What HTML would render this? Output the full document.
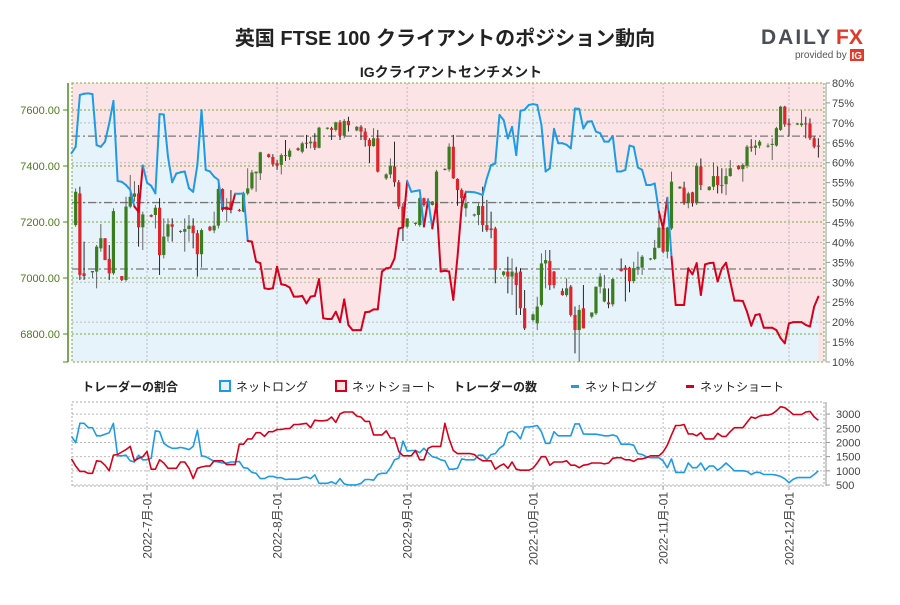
<!DOCTYPE html>
<html><head><meta charset="utf-8">
<style>
html,body{margin:0;padding:0;background:#fff;}
body{width:900px;height:600px;overflow:hidden;font-family:"Liberation Sans","Noto Sans CJK JP",sans-serif;}
svg text{font-family:"Liberation Sans","Noto Sans CJK JP",sans-serif;}
</style></head>
<body>
<svg id="chart" width="900" height="600" viewBox="0 0 900 600" xmlns="http://www.w3.org/2000/svg">
<text x="445" y="45" text-anchor="middle" font-size="20" font-weight="bold" fill="#222">英国 FTSE 100 クライアントのポジション動向</text>
<text x="451" y="77" text-anchor="middle" font-size="14" font-weight="bold" fill="#222">IGクライアントセンチメント</text>
<g>
<text x="761" y="44" font-size="21" font-weight="bold" fill="#4a4f57" letter-spacing="2">DAILY</text>
<text x="836" y="44" font-size="21" font-weight="bold" fill="#e03a2a">FX</text>
<text x="795" y="58" font-size="10" fill="#555">provided by</text>
<rect x="850" y="49" width="14" height="12" fill="#e03a2a"/>
<text x="851.5" y="59" font-size="10" font-weight="bold" fill="#fff">IG</text>
</g>
<g id="main"></g>
<g id="legend">
<text x="82" y="391" font-size="12" font-weight="bold" fill="#222">トレーダーの割合</text>
<rect x="220" y="381" width="10" height="10" fill="#e6f3fb" stroke="#1e9be6" stroke-width="2"/>
<text x="236" y="391" font-size="12" fill="#222">ネットロング</text>
<rect x="336" y="381" width="10" height="10" fill="#fce4e6" stroke="#d7001c" stroke-width="2"/>
<text x="352" y="391" font-size="12" fill="#222">ネットショート</text>
<text x="453" y="391" font-size="12" font-weight="bold" fill="#222">トレーダーの数</text>
<rect x="571" y="385" width="8" height="3" fill="#1e9be6"/>
<text x="585" y="391" font-size="12" fill="#222">ネットロング</text>
<rect x="686" y="385" width="8" height="3" fill="#d7001c"/>
<text x="700" y="391" font-size="12" fill="#222">ネットショート</text>
</g>
<g id="lower"></g>
</svg>
<script>
// ---- data ----
const candleDays=[-17,-16,-15,-13,-12,-11,-10,-9,-8,-6,-5,-4,-3,-2,-1,1,2,3,4,5,6,8,9,10,11,12,13,15,16,17,18,19,20,22,23,24,25,26,27,29,30,31,32,33,34,36,37,38,39,40,41,43,44,45,46,47,48,50,51,52,53,54,55,57,58,59,60,61,62,64,65,66,67,68,69,71,72,73,74,75,76,78,79,80,81,82,83,85,86,87,88,89,90,92,93,94,95,96,97,99,100,101,102,103,104,106,107,108,109,110,111,113,114,115,116,117,118,120,121,122,123,124,125,127,128,129,130,131,132,134,135,136,137,138,139,141,142,143,144,145,146,148,149,150,151,152,153,155,156,157,158,159,160];
const ohlc=[[7189,7320,7183,7308],[7302,7326,6993,7011],[7017,7130,6993,7007],[7020,7025,6999,7025],[7023,7118,6963,7112],[7106,7193,7094,7142],[7142,7142,7064,7064],[7068,7118,6993,7017],[7017,7249,7011,7239],[7007,7007,6989,6993],
[6993,7290,6987,7255],[7255,7368,7249,7290],[7290,7346,7273,7302],[7302,7332,7112,7181],[7181,7237,7100,7227],[7225,7227,7217,7219],[7225,7261,7177,7251],[7251,7285,7011,7082],[7082,7213,7070,7148],[7148,7213,7130,7192],
[7192,7213,7130,7183],[7165,7171,7160,7168],[7165,7213,7094,7175],[7175,7225,7130,7187],[7187,7213,7106,7160],[7160,7171,7005,7085],[7085,7177,7037,7171],[7183,7186,7167,7170],[7170,7237,7160,7187],[7187,7344,7177,7318],
[7318,7320,7237,7243],[7243,7285,7201,7255],[7273,7314,7231,7243],[7243,7247,7237,7242],[7237,7308,7235,7302],[7302,7392,7296,7320],[7320,7386,7314,7377],[7374,7380,7308,7380],[7374,7451,7350,7449],[7442,7444,7430,7432],
[7432,7442,7398,7406],[7410,7421,7386,7401],[7404,7445,7370,7439],[7439,7493,7418,7436],[7433,7463,7421,7455],[7463,7466,7454,7457],[7451,7487,7445,7481],[7483,7511,7463,7481],[7481,7505,7463,7487],[7487,7517,7457,7465],
[7465,7540,7463,7537],[7533,7538,7530,7537],[7535,7540,7493,7529],[7529,7558,7523,7556],[7556,7564,7493,7508],[7508,7568,7499,7561],[7561,7576,7523,7546],[7527,7543,7524,7540],[7540,7546,7493,7523],[7523,7535,7469,7493],
[7493,7499,7410,7471],[7471,7535,7469,7499],[7499,7529,7377,7380],[7356,7374,7350,7370],[7370,7427,7356,7401],[7398,7487,7326,7342],[7342,7350,7246,7255],[7255,7267,7132,7183],[7183,7213,7177,7213],[7193,7199,7187,7197],
[7189,7290,7183,7285],[7285,7287,7255,7261],[7275,7285,7255,7261],[7261,7275,7259,7273],[7251,7386,7249,7380],[7386,7392,7384,7390],[7388,7481,7380,7469],[7469,7511,7354,7356],[7354,7356,7258,7314],[7314,7320,7255,7285],
[7249,7296,7219,7267],[7223,7230,7219,7227],[7225,7267,7189,7257],[7257,7326,7165,7189],[7189,7279,7165,7171],[7177,7237,7142,7171],[7177,7183,6981,7029],[7011,7025,7005,7023],[7023,7076,6945,7005],[7005,7070,6939,7023],
[7019,7040,6868,6975],[7023,7035,6868,6892],[6892,6957,6814,6820],[6850,6874,6844,6870],[6838,6933,6814,6898],[6904,7088,6898,7052],[7052,7100,6963,7064],[7061,7100,6957,6975],[7023,7025,6963,6975],[6954,6963,6937,6939],
[6939,6999,6933,6963],[6969,6975,6862,6868],[6868,6898,6731,6814],[6814,6904,6701,6886],[6892,6975,6820,6820],[6862,6877,6856,6877],[6874,6969,6868,6969],[6969,7017,6945,7005],[6916,7011,6913,6963],[6913,6963,6892,6906],
[6906,6999,6898,6996],[7032,7070,7023,7025],[7037,7046,6916,7029],[7037,7040,6949,6989],[6989,7058,6981,7035],[7035,7094,7011,7040],[7037,7082,7011,7076],[7066,7072,7063,7070],[7068,7136,7064,7108],[7108,7243,7106,7180],
[7180,7195,7088,7094],[7094,7183,7070,7180],[7177,7380,7171,7344],[7320,7328,7318,7326],[7323,7344,7261,7270],[7267,7308,7249,7302],[7306,7308,7255,7267],[7267,7410,7261,7401],[7398,7427,7314,7332],[7314,7328,7312,7326],
[7326,7413,7314,7364],[7364,7398,7302,7332],[7332,7392,7302,7330],[7335,7392,7296,7364],[7364,7421,7362,7392],[7401,7403,7387,7389],[7389,7410,7344,7404],[7401,7475,7392,7469],[7469,7496,7451,7465],[7465,7493,7439,7473],
[7473,7493,7463,7487],[7469,7481,7465,7473],[7475,7499,7421,7479],[7473,7540,7469,7535],[7529,7615,7525,7612],[7612,7615,7540,7549],[7552,7570,7505,7546],[7548,7554,7546,7552],[7546,7598,7540,7552],[7552,7576,7499,7550],
[7552,7570,7493,7499],[7499,7505,7463,7469],[7473,7499,7430,7469]];
const sentStartDay=-18;
const sentLong=[62.4,64.0,77.0,77.3,77.4,77.2,64.4,64.0,65.3,69.9,75.5,55.4,55.2,54.4,53.2,49.0,47.7,59.3,55.0,54.2,52.3,72.2,72.1,61.5,55.1,57.3,57.6,57.8,53.6,52.7,59.4,73.2,58.2,57.8,56.5,55.7,48.6,48.6,48.3,52.2,52.2,52.3,40.4,40.2,35.2,34.8,28.5,28.3,28.5,33.9,29.5,29.3,28.7,26.4,26.4,26.6,24.7,26.4,26.6,30.8,21.0,20.8,20.8,22.6,20.0,25.7,19.3,18.0,18.0,18.0,22.5,22.6,23.2,23.2,32.7,33.5,33.7,36.0,43.5,43.8,55.4,52.7,52.9,53.1,44.0,50.7,43.5,49.8,32.7,32.9,32.7,25.6,36.4,49.0,52.7,52.7,52.6,52.3,51.9,56.1,59.4,59.8,72.0,70.7,66.1,69.0,61.9,73.0,73.3,74.5,74.7,74.5,69.5,57.8,58.6,68.5,64.9,64.9,64.5,63.6,73.6,73.5,68.6,70.3,70.4,67.8,67.4,65.3,65.3,66.7,57.8,57.8,58.2,64.3,64.0,58.8,58.2,54.4,54.4,54.8,47.7,43.5,51.2,36.4,24.3,24.3,24.3,33.5,32.0,34.8,26.8,34.5,34.8,34.9,30.2,33.5,34.9,30.2,25.4,25.4,25.3,22.6,19.1,21.8,22.0,18.6,18.6,18.6,18.0,16.0,14.7,19.7,20.0,20.0,20.0,19.3,18.9,23.9,26.4];
const countLong=[2213,1993,2676,2676,2522,2522,2235,2235,2290,2345,
2676,1530,1530,1552,1354,1310,1552,1387,1387,
1442,2411,2378,1971,1860,1794,1794,1827,1794,1750,
1860,2434,1530,1497,1420,1332,1310,1276,1276,1310,
1310,1332,1111,1089,946,913,726,726,803,803,
759,759,693,704,704,704,759,781,726,858,
560,560,560,615,538,726,538,505,505,505,
560,693,693,671,869,913,913,1111,1387,1442,
2048,1695,1717,1717,1640,1794,1640,1497,1464,1387,
1354,1056,1056,1089,1420,1387,1387,1387,1552,1552,
1387,1574,1607,1794,1905,2345,2400,2323,2125,2544,
2544,2566,2599,2378,1971,1971,2378,2235,2235,
2235,2235,2654,2654,2301,2290,2290,2290,2268,2235,
2235,2268,2213,1938,1938,1938,1905,1607,1574,1497,
1464,1464,1464,1354,1111,1420,946,946,946,
1276,1111,1111,1276,1023,1166,1166,1023,1133,1276,
1144,1001,1001,1001,979,869,946,946,869,869,
869,847,803,720,580,700,760,760,760,760,
870,1000];
const countShort=[1420,1166,979,979,913,913,1354,1332,1199,1001,
1552,1574,1662,1750,1860,1354,1442,1497,1684,1056,
1056,1387,1276,1089,1089,1089,1310,1310,1089,726,
1089,1133,1166,1166,1354,1354,1354,1221,1221,1221,
1938,1938,2125,2125,2345,2345,2213,2378,2378,2456,
2456,2489,2489,2632,2632,2654,2676,2522,2786,2764,
2764,2786,2896,2709,3007,3073,3073,3073,2929,2896,
2742,2742,2268,2268,2268,2411,2158,2158,1684,1530,
1530,1530,1717,1387,1387,1794,1860,1860,1860,2676,
2125,1717,1607,1607,1607,1607,1574,1442,1354,1354,
1354,1056,1166,1243,1089,1310,1056,1023,1023,1023,
1089,1276,1497,1497,1199,1310,1310,1310,1354,1199,
1199,1111,1199,1221,1276,1276,1276,1243,1276,1442,
1464,1464,1387,1387,1332,1420,1420,1464,1530,1530,
1530,1662,1905,2268,2599,2599,2632,2301,2301,2235,
2345,2125,2125,2125,2323,2213,2213,2378,2522,2522,
2522,2709,2896,2852,2929,2963,2963,3007,3117,3260,
3227,3117,2985,2985,2985,3073,3095,2896,2786];
const priceTicks=[7600,7400,7200,7000,6800];
const pctTicks=[80,75,70,65,60,55,50,45,40,35,30,25,20,15,10];
const countTicks=[3000,2500,2000,1500,1000,500];
const monthDays=[0,31,62,92,123,153];
const monthLabels=["2022-7月-01","2022-8月-01","2022-9月-01","2022-10月-01","2022-11月-01","2022-12月-01"];

// ---- scales ----
const X0=72,X1=824,PT=83,PB=362,LT=402,LB=486;
const xD=d=>147+d*4.196;
const yP=p=>110+(7600-p)*0.28;
const yS=s=>PT+(80-s)*3.986;
const yC=v=>485-(v-500)*0.02836;
const NS="http://www.w3.org/2000/svg";
function mk(tag,attrs,parent){const e=document.createElementNS(NS,tag);for(const k in attrs)e.setAttribute(k,attrs[k]);parent.appendChild(e);return e;}
const main=document.getElementById('main');
const lower=document.getElementById('lower');

let bg=mk('rect',{x:X0,y:PT,width:X1-X0,height:PB-PT,fill:'#fce4e6'},main);


let pts=sentLong.map((v,i)=>xD(sentStartDay+i).toFixed(1)+','+yS(v).toFixed(1));
let area=mk('polygon',{points:xD(sentStartDay).toFixed(1)+','+PB+' '+pts.join(' ')+' '+xD(sentStartDay+sentLong.length-1).toFixed(1)+','+PB,fill:'#e6f3fb'},main);


mk('rect',{x:X0,y:PT,width:xD(sentStartDay)-X0,height:PB-PT,fill:'#e6f3fb'},main);

pctTicks.forEach(t=>{if(t%10===0&&t!==80&&t!==10){mk('line',{x1:X0,x2:X1,y1:yS(t),y2:yS(t),stroke:'#bbb','stroke-dasharray':'2,2','stroke-width':1},main);}});
priceTicks.forEach(t=>{mk('line',{x1:X0,x2:X1,y1:yP(t),y2:yP(t),stroke:'#7aa83a','stroke-dasharray':'2,2','stroke-width':1},main);});
[66.67,50,33.33].forEach(t=>{mk('line',{x1:X0,x2:X1,y1:yS(t),y2:yS(t),stroke:'#777','stroke-dasharray':'8,3,2,3','stroke-width':1.3},main);});
monthDays.forEach(d=>{mk('line',{x1:xD(d),x2:xD(d),y1:PT,y2:PB,stroke:'#bbb','stroke-dasharray':'2,2'},main);});
mk('rect',{x:X0,y:PT,width:X1-X0,height:PB-PT,fill:'none',stroke:'#7aa83a','stroke-dasharray':'2,2'},main);

ohlc.forEach((c,i)=>{
  const x=xD(candleDays[i]);const up=c[3]>=c[0];
  const g=mk('g',{},main);
  
  
  mk('line',{x1:x,x2:x,y1:yP(c[1]),y2:yP(c[2]),stroke:up?'#555':'#111','stroke-width':0.9},g);
  const yt=yP(Math.max(c[0],c[3])),yb=yP(Math.min(c[0],c[3]));
  mk('rect',{x:x-1.6,y:yt,width:3.2,height:Math.max(1,yb-yt),fill:up?'#3a7d1e':'#e0242b'},g);
});

for(let i=0;i<sentLong.length-1;i++){
  const l=mk('line',{x1:xD(sentStartDay+i),y1:yS(sentLong[i]),x2:xD(sentStartDay+i+1),y2:yS(sentLong[i+1]),stroke:sentLong[i]>=50?'#1e9be6':'#d7001c','stroke-width':2,'stroke-linecap':'round'},main);
  
  
}

mk('line',{x1:68,x2:68,y1:PT,y2:PB,stroke:'#4c8a1e','stroke-width':1.5},main);
priceTicks.forEach(t=>{
  mk('line',{x1:63,x2:68,y1:yP(t),y2:yP(t),stroke:'#4c8a1e'},main);
  const tx=mk('text',{x:60,y:yP(t)+4,'text-anchor':'end','font-size':11,fill:'#4c7a1e'},main);
  tx.textContent=t.toFixed(2);
  
  
});
mk('line',{x1:63,x2:68,y1:PB,y2:PB,stroke:'#4c8a1e'},main);
mk('line',{x1:826,x2:826,y1:PT,y2:PB,stroke:'#999'},main);
pctTicks.forEach(t=>{
  mk('line',{x1:826,x2:830,y1:yS(t),y2:yS(t),stroke:'#999'},main);
  const tx=mk('text',{x:832,y:yS(t)+4,'font-size':11,fill:'#444'},main);
  tx.textContent=t+'%';
  
  
});

monthDays.forEach(d=>{mk('line',{x1:xD(d),x2:xD(d),y1:LT,y2:LB,stroke:'#bbb','stroke-dasharray':'2,2'},lower);});
countTicks.forEach(t=>{mk('line',{x1:X0,x2:X1,y1:yC(t),y2:yC(t),stroke:'#bbb','stroke-dasharray':'2,2'},lower);});
mk('rect',{x:X0,y:LT,width:X1-X0,height:LB-LT,fill:'none',stroke:'#aaa','stroke-dasharray':'2,2'},lower);
function series(arr,color,name){
  const p=arr.map((v,i)=>xD(sentStartDay+i).toFixed(1)+','+yC(v).toFixed(1)).join(' ');
  const pl=mk('polyline',{points:p,fill:'none',stroke:color,'stroke-width':1.6,'stroke-linejoin':'round'},lower);
  
  
}
series(countLong,'#1e9be6','net-long-count-line');
series(countShort,'#d7001c','net-short-count-line');
mk('line',{x1:826,x2:826,y1:LT,y2:LB,stroke:'#999'},lower);
countTicks.forEach(t=>{
  mk('line',{x1:826,x2:830,y1:yC(t),y2:yC(t),stroke:'#999'},lower);
  const tx=mk('text',{x:836,y:yC(t)+4,'font-size':11,fill:'#444'},lower);
  tx.textContent=t;
  
  
});
monthDays.forEach((d,i)=>{
  const x=xD(d);
  mk('line',{x1:x,x2:x,y1:LB,y2:LB+4,stroke:'#999'},lower);
  const tx=mk('text',{x:0,y:0,'text-anchor':'end','font-size':12,fill:'#444',transform:'translate('+(x+4.5)+','+(LB+6)+') rotate(-90)'},lower);
  tx.textContent=monthLabels[i];
  
  
});
</script>
</body></html>
